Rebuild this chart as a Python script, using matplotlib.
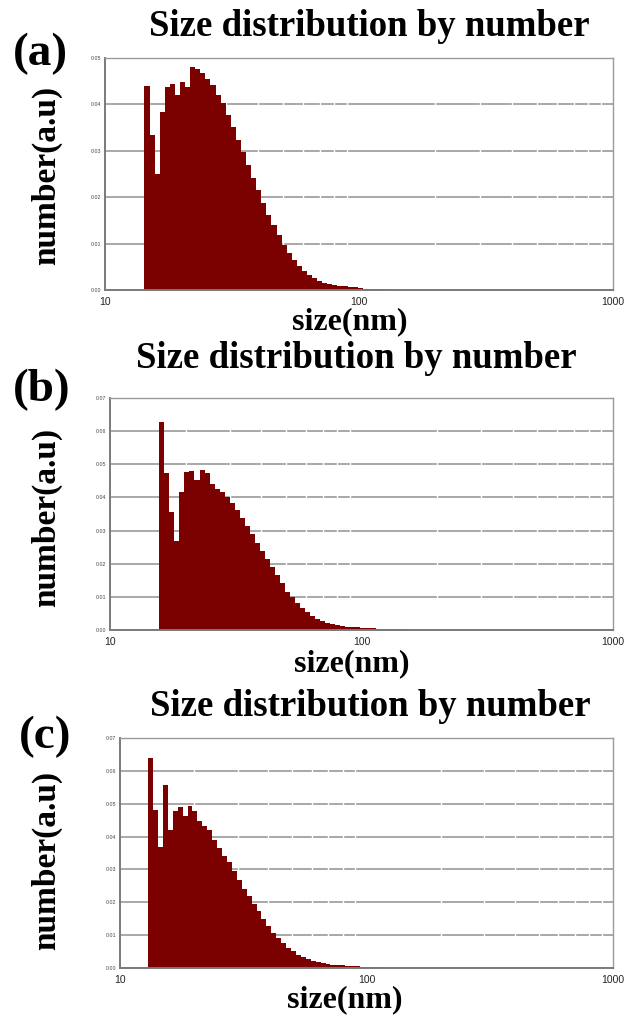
import numpy as np
import matplotlib
matplotlib.use('Agg')
from matplotlib import pyplot as plt
from matplotlib.ticker import LogLocator, NullFormatter, FuncFormatter

# === DATA === #
BinStep = 0.02  # bin width in decades
StartA, StartB, StartC = 14.3, 15.7, 13.0  # left edge of first bin (nm)

NumberA = [0.0440, 0.0334, 0.0251, 0.0383, 0.0437, 0.0444, 0.0420, 0.0449, 0.0437, 0.0480,
           0.0476, 0.0467, 0.0455, 0.0442, 0.0420, 0.0402, 0.0377, 0.0352, 0.0323, 0.0298,
           0.0269, 0.0241, 0.0216, 0.0187, 0.0162, 0.0140, 0.0119, 0.0097, 0.0079, 0.0065,
           0.0052, 0.0040, 0.0032, 0.0025, 0.0020, 0.0016, 0.0013, 0.0011, 0.0009, 0.0008,
           0.0007, 0.0006, 0.0005, 0.0003, 0.0003, 0.0002, 0.0002, 0.0002]
NumberB = [0.0627, 0.0473, 0.0357, 0.0270, 0.0415, 0.0476, 0.0480, 0.0453, 0.0483, 0.0473,
           0.0440, 0.0425, 0.0415, 0.0402, 0.0382, 0.0362, 0.0339, 0.0314, 0.0289, 0.0262,
           0.0238, 0.0213, 0.0191, 0.0166, 0.0141, 0.0116, 0.0099, 0.0081, 0.0066, 0.0054,
           0.0043, 0.0034, 0.0027, 0.0022, 0.0018, 0.0015, 0.0012, 0.0010, 0.0009, 0.0008,
           0.0007, 0.0006, 0.0005, 0.0004, 0.0003, 0.0003, 0.0003, 0.0003, 0.0003]
NumberC = [0.0639, 0.0482, 0.0367, 0.0558, 0.0421, 0.0479, 0.0489, 0.0464, 0.0494, 0.0479,
           0.0446, 0.0431, 0.0419, 0.0390, 0.0365, 0.0340, 0.0323, 0.0294, 0.0267, 0.0241,
           0.0218, 0.0196, 0.0172, 0.0150, 0.0127, 0.0107, 0.0091, 0.0075, 0.0062, 0.0051,
           0.0041, 0.0033, 0.0027, 0.0022, 0.0018, 0.0015, 0.0012, 0.0010, 0.0009, 0.0008,
           0.0007, 0.0006, 0.0005, 0.0004, 0.0003, 0.0003, 0.0003, 0.0003]

YTicksA = [0.00, 0.01, 0.02, 0.03, 0.04, 0.05]
YTicksBC = [0.00, 0.01, 0.02, 0.03, 0.04, 0.05, 0.06, 0.07]
XTicks = [10, 100, 1000]

# === STYLE === #
W, H = 629, 1018
BarColor = '#7b0000'
GridColor = '#a8a8a8'
SerifBold = dict(family='Liberation Serif', weight='bold', color='black')

fig = plt.figure(figsize=(W/100, H/100), dpi=100)
fig.patch.set_facecolor('white')


def PxAxes(left, top, right, bottom):
    return fig.add_axes([left/W, 1-bottom/H, (right-left)/W, (bottom-top)/H])


def PxText(x, y, s, **kw):
    fig.text(x/W, 1-y/H, s, ha='center', va='center', **kw)


def DrawPanel(box, start, values, yticks, tag, titleXY, tagXY, ylabY, xlabXY):
    ax = PxAxes(*box)
    edges = start * 10**(BinStep*np.arange(len(values)+1))
    ax.bar(edges[:-1], values, width=np.diff(edges), align='edge',
           color=BarColor, linewidth=0, zorder=2)
    ax.set_xscale('log')
    ax.set_xlim(10, 1000)
    ax.set_ylim(yticks[0], yticks[-1])
    ax.set_xticks(XTicks)
    ax.xaxis.set_major_formatter(FuncFormatter(lambda v, p: f'{v:g}'))
    ax.xaxis.set_minor_locator(LogLocator(base=10, subs=range(2, 10)))
    ax.xaxis.set_minor_formatter(NullFormatter())
    ax.set_yticks(yticks)
    ax.set_yticklabels([f'{t:.2f}' for t in yticks])
    ax.tick_params(axis='x', which='major', length=0, labelsize=7.5, pad=5,
                   labelcolor='#222222')
    ax.tick_params(axis='x', which='minor', length=0)
    ax.tick_params(axis='y', length=0, labelsize=3.8, pad=3, labelcolor='#444444')
    for lab in ax.get_xticklabels() + ax.get_yticklabels():
        lab.set_family('Liberation Sans')
    # horizontal grid, broken by white gaps at the log minor positions
    ax.set_axisbelow(True)
    ax.grid(which='major', axis='y', color=GridColor, linewidth=1.4)
    ax.grid(which='minor', axis='x', color='white', linewidth=1.0)
    ax.xaxis.set_zorder(0.6)
    ax.yaxis.set_zorder(0.5)
    for side in ['top', 'right']:
        ax.spines[side].set_color('#9a9a9a')
        ax.spines[side].set_linewidth(1.0)
    for side in ['left', 'bottom']:
        ax.spines[side].set_color('#7a7a7a')
        ax.spines[side].set_linewidth(1.4)

    PxText(*titleXY, 'Size distribution by number', fontsize=26.5, **SerifBold)
    PxText(*tagXY, tag, fontsize=34, **SerifBold)
    PxText(47, ylabY, 'number(a.u)', fontsize=24, rotation=90, **SerifBold)
    PxText(*xlabXY, 'size(nm)', fontsize=23, **SerifBold)
    return ax


DrawPanel((105, 58, 613, 290), StartA, NumberA, YTicksA, '(a)',
          (369, 26), (40, 54), 175, (350, 322))
DrawPanel((110, 398, 613, 630), StartB, NumberB, YTicksBC, '(b)',
          (356, 359), (42, 390), 517, (352, 664))
DrawPanel((120, 738, 613, 968), StartC, NumberC, YTicksBC, '(c)',
          (370, 706), (45, 737), 860, (345, 1000))

fig.savefig('out.png', dpi=100, facecolor='white')
